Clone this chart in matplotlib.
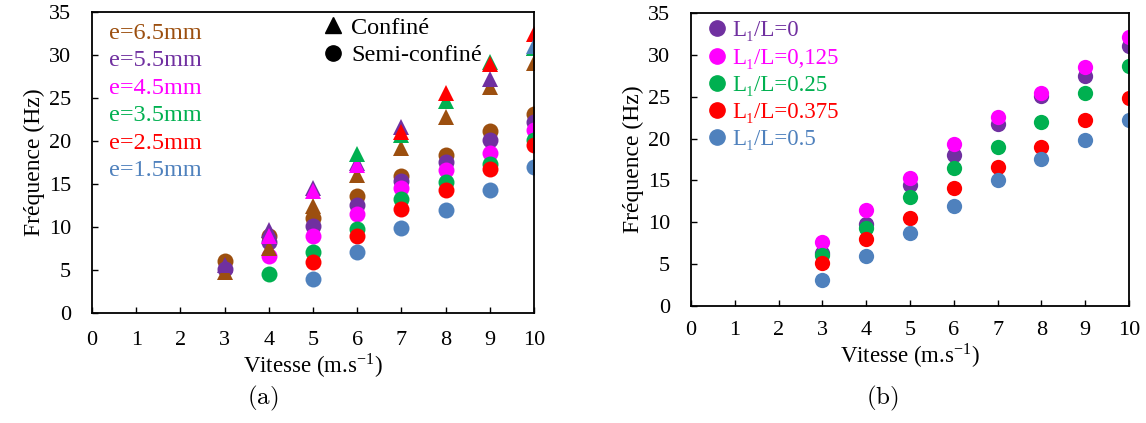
import numpy as np
import matplotlib
matplotlib.use("Agg")
import matplotlib.pyplot as plt
from matplotlib.lines import Line2D

plt.rcParams['font.family'] = ['Liberation Serif', 'DejaVu Serif']
plt.rcParams['mathtext.fontset'] = 'stix'

nan = np.nan
vitesse = [3, 4, 5, 6, 7, 8, 9, 10]

# (a) epaisseurs, semi-confine (circles) and confine (triangles)
labels_a = ['e=6.5mm', 'e=5.5mm', 'e=4.5mm', 'e=3.5mm', 'e=2.5mm', 'e=1.5mm']
colors_a = ['#9C4F0F', '#7030A0', '#FF00FF', '#00B050', '#FF0000', '#4F81BD']
semi_65 = [6.1, 9.0, 11.1, 13.6, 15.9, 18.4, 21.2, 23.1]
semi_55 = [5.1, 8.2, 10.1, 12.6, 15.3, 17.6, 20.1, 22.2]
semi_45 = [nan, 6.6, 8.9, 11.5, 14.5, 16.6, 18.6, 21.3]
semi_35 = [nan, 4.5, 7.1, 9.8, 13.2, 15.2, 17.3, 20.1]
semi_25 = [nan, nan, 5.9, 8.9, 12.1, 14.3, 16.8, 19.5]
semi_15 = [nan, nan, 3.9, 7.1, 9.9, 12.0, 14.3, 17.0]
conf_65 = [4.8, 7.6, 12.5, 16.0, 19.2, 22.8, 26.3, 29.1]
conf_55 = [5.6, 9.6, 14.5, 17.4, 21.6, nan, 27.2, 30.8]
conf_45 = [nan, 8.9, 14.2, 17.2, nan, nan, nan, nan]
conf_35 = [nan, nan, nan, 18.5, 20.7, 24.6, 29.2, 30.8]
conf_25 = [nan, nan, nan, nan, 21.0, 25.6, 28.9, 32.5]
conf_15 = [nan, nan, nan, nan, nan, nan, nan, 31.1]
semi_a = [semi_65, semi_55, semi_45, semi_35, semi_25, semi_15]
conf_a = [conf_65, conf_55, conf_45, conf_35, conf_25, conf_15]

# (b) position L1/L
labels_b = ['L\u2081/L=0', 'L\u2081/L=0,125', 'L\u2081/L=0.25', 'L\u2081/L=0.375', 'L\u2081/L=0.5']
colors_b = ['#7030A0', '#FF00FF', '#00B050', '#FF0000', '#4F81BD']
l_0 = [6.3, 9.8, 14.5, 18.0, 21.7, 25.1, 27.5, 31.1]
l_0125 = [7.6, 11.5, 15.3, 19.4, 22.6, 25.4, 28.6, 32.1]
l_025 = [6.1, 9.3, 13.0, 16.5, 19.0, 22.0, 25.5, 28.7]
l_0375 = [5.1, 8.0, 10.5, 14.1, 16.6, 19.0, 22.2, 24.8]
l_05 = [3.1, 6.0, 8.7, 12.0, 15.0, 17.5, 19.8, 22.2]
series_b = [l_0, l_0125, l_025, l_0375, l_05]

fig = plt.figure(figsize=(11.46, 4.23), dpi=100)
ax1 = fig.add_axes([0.0803, 0.260, 0.3857, 0.7116])
ax2 = fig.add_axes([0.603, 0.2766, 0.3822, 0.6927])


def style_axes(ax, pady):
  ax.set_xlim(0, 10)
  ax.set_ylim(0, 35)
  ax.set_xticks(range(0, 11))
  ax.set_yticks(range(0, 36, 5))
  ax.tick_params(direction='in', length=4, width=1, labelsize=16)
  ax.tick_params(axis='y', pad=15)
  ax.tick_params(axis='x', pad=pady)
  for s in ax.spines.values():
    s.set_linewidth(1.3)
  ax.set_ylabel('Fréquence (Hz)', fontsize=17, labelpad=3)
  ax.set_xlabel('Vitesse (m.s$^{\\mathregular{-1}}$)', fontsize=16.5, labelpad=1)


for ys, c in zip(semi_a, colors_a):
  ax1.plot(vitesse, ys, 'o', color=c, markersize=11.5, markeredgewidth=0)
for ys, c in zip(conf_a, colors_a):
  ax1.plot(vitesse, ys, '^', color=c, markersize=12, markeredgewidth=0)
style_axes(ax1, 13)

# colored text legend for thicknesses
hs = [Line2D([], [], linestyle='none') for _ in labels_a]
leg1 = ax1.legend(hs, labels_a, loc='upper left', bbox_to_anchor=(-0.011, 1.04),
                  frameon=False, handlelength=0, handletextpad=0,
                  labelcolor=colors_a, fontsize=17.5, labelspacing=0.225)
ax1.add_artist(leg1)
hm = [Line2D([], [], marker='^', color='k', linestyle='none', markersize=11),
      Line2D([], [], marker='o', color='k', linestyle='none', markersize=11)]
ax1.legend(hm, ['Confiné', 'Semi-confiné'], loc='upper left', bbox_to_anchor=(0.468, 1.057),
           frameon=False, handletextpad=0.25, fontsize=17.5, labelspacing=0.22,
           handlelength=1.0)

for ys, c in zip(series_b, colors_b):
  ax2.plot(vitesse, ys, 'o', color=c, markersize=11, markeredgewidth=0)
style_axes(ax2, 11)
hb = [Line2D([], [], marker='o', color=c, linestyle='none', markersize=11) for c in colors_b]
ax2.legend(hb, labels_b, loc='upper left', bbox_to_anchor=(-0.015, 1.045), frameon=False,
           handletextpad=0.2, handlelength=1.0, labelcolor=colors_b, fontsize=16.5,
           labelspacing=0.27)

fig.text(0.2295, 0.043, r'$\mathrm{(a)}$', fontsize=18, ha='center', math_fontfamily='cm')
fig.text(0.7696, 0.043, r'$\mathrm{(b)}$', fontsize=18, ha='center', math_fontfamily='cm')

fig.savefig('out.png', dpi=100)
